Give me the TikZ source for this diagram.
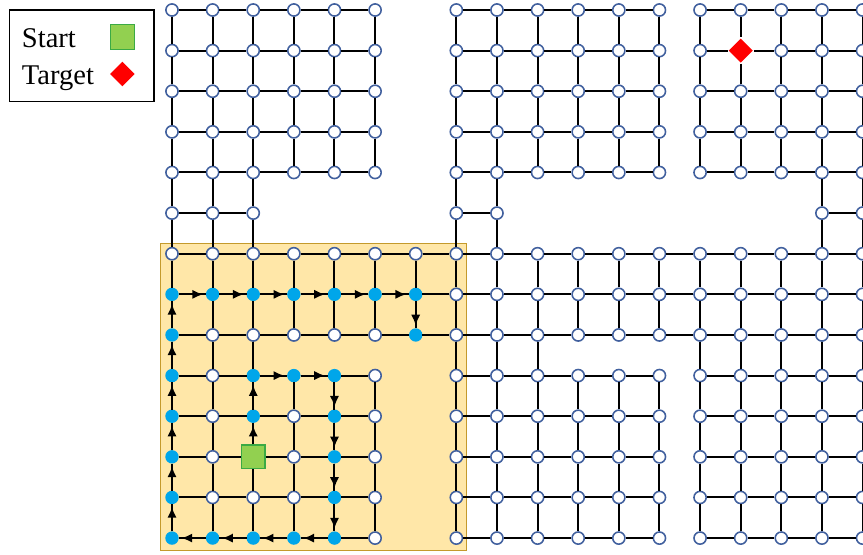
\documentclass[tikz,border=0pt]{standalone}
\usepackage{fontspec}
\setmainfont{Liberation Serif}
\usetikzlibrary{arrows.meta,shapes.geometric}
\definecolor{NodeRim}{HTML}{41609E}
\definecolor{Visited}{HTML}{00A6EA}
\definecolor{ZoneFill}{HTML}{FFE7A8}
\definecolor{ZoneRim}{HTML}{C49A2C}
\definecolor{StartGreen}{HTML}{92D050}
\definecolor{StartRim}{HTML}{3BAA45}
\definecolor{TargetRed}{HTML}{FF0000}
\tikzset{
  vertex/.style={circle,draw=NodeRim,fill=white,line width=1.1pt,minimum size=3.0mm,inner sep=0pt},
  visited/.style={draw=Visited,fill=Visited,minimum size=2.9mm},
  startcell/.style={rectangle,draw=StartRim,fill=StartGreen,line width=0.8pt,minimum size=5.8mm},
  targetcell/.style={diamond,aspect=1,draw=none,fill=TargetRed,minimum size=6.1mm},
  link/.style={line width=1.4pt,black},
  walk/.style={-{Latex[length=7.5pt,width=6.5pt]},line width=1.4pt,shorten >=2pt},
  legend text/.style={anchor=base west,inner sep=0pt,font=\fontsize{20}{24}\selectfont},
  % cells on the search path
  cell 2-11/.style=startcell, cell 14-1/.style=targetcell,
  cell 2-10/.style=visited, cell 2-9/.style=visited, cell 3-9/.style=visited,
  cell 4-9/.style=visited, cell 4-10/.style=visited, cell 4-11/.style=visited,
  cell 4-12/.style=visited, cell 4-13/.style=visited, cell 3-13/.style=visited,
  cell 2-13/.style=visited, cell 1-13/.style=visited, cell 0-13/.style=visited,
  cell 0-12/.style=visited, cell 0-11/.style=visited, cell 0-10/.style=visited,
  cell 0-9/.style=visited, cell 0-8/.style=visited, cell 0-7/.style=visited,
  cell 1-7/.style=visited, cell 2-7/.style=visited, cell 3-7/.style=visited,
  cell 4-7/.style=visited, cell 5-7/.style=visited, cell 6-7/.style=visited,
  cell 6-8/.style=visited
}
\begin{document}
\begin{tikzpicture}
  \useasboundingbox (-4.234,0.246) rectangle (17.011,-13.393);
  % search area
  \filldraw[fill=ZoneFill,draw=ZoneRim,line width=0.7pt] (-0.295,-5.736) rectangle (7.262,-13.294);

  % grid vertices
  \foreach \j in {0,1,2,3,4,9,10,11,12,13}
    \foreach \i in {0,1,2,3,4,5,7,8,9,10,11,12,13,14,15,16,17}
      \node[vertex,cell \i-\j/.try] (v-\i-\j) at (\i,-\j) {};
  \foreach \i in {0,1,2,7,8,16,17}
    \node[vertex] (v-\i-5) at (\i,-5) {};
  \foreach \j in {6,7,8}
    \foreach \i in {0,...,17}
      \node[vertex,cell \i-\j/.try] (v-\i-\j) at (\i,-\j) {};

  % horizontal links
  \foreach \j in {0,1,2,3,4,9,10,11,12,13}{
    \foreach \i in {0,1,2,3,4,7,8,9,10,11,13,14,15,16}{
      \pgfmathtruncatemacro\k{\i+1}
      \draw[link] (v-\i-\j) -- (v-\k-\j);
    }
  }
  \foreach \i in {0,1,7,16}{
    \pgfmathtruncatemacro\k{\i+1}
    \draw[link] (v-\i-5) -- (v-\k-5);
  }
  \foreach \j in {6,7,8}{
    \foreach \i in {0,...,16}{
      \pgfmathtruncatemacro\k{\i+1}
      \draw[link] (v-\i-\j) -- (v-\k-\j);
    }
  }

  % vertical links
  \foreach \i in {0,1,2,3,4,5,7,8,9,10,11,12,13,14,15,16,17}{
    \foreach \j in {0,1,2,3,9,10,11,12}{
      \pgfmathtruncatemacro\k{\j+1}
      \draw[link] (v-\i-\j) -- (v-\i-\k);
    }
  }
  \foreach \i in {0,1,2,7,8,16,17}{
    \foreach \j in {4,5}{
      \pgfmathtruncatemacro\k{\j+1}
      \draw[link] (v-\i-\j) -- (v-\i-\k);
    }
  }
  \foreach \i in {0,...,17}{
    \foreach \j in {6,7}{
      \pgfmathtruncatemacro\k{\j+1}
      \draw[link] (v-\i-\j) -- (v-\i-\k);
    }
  }
  \foreach \i in {0,1,2,7,8,9,13,14,15,16,17}
    \draw[link] (v-\i-8) -- (v-\i-9);

  % path taken
  \foreach \a/\b in {2-11/2-10,2-10/2-9,2-9/3-9,3-9/4-9,4-9/4-10,4-10/4-11,4-11/4-12,
      4-12/4-13,4-13/3-13,3-13/2-13,2-13/1-13,1-13/0-13,0-13/0-12,0-12/0-11,0-11/0-10,
      0-10/0-9,0-9/0-8,0-8/0-7,0-7/1-7,1-7/2-7,2-7/3-7,3-7/4-7,4-7/5-7,5-7/6-7,6-7/6-8}
    \draw[walk] (v-\a) -- (v-\b);

  % legend
  \node[draw,line width=1pt,minimum width=3.56cm,minimum height=2.26cm,inner sep=0pt] (legend) at (-2.224,-1.128) {};
  \node[legend text] (lbl-start) at (-3.70,-0.918) {Start};
  \node[legend text] (lbl-target) at (-3.70,-1.822) {Target};
  \node[startcell,minimum size=6mm] (key-start) at (-1.219,-0.665) {};
  \node[targetcell] (key-target) at (-1.223,-1.576) {};
\end{tikzpicture}
\end{document}
